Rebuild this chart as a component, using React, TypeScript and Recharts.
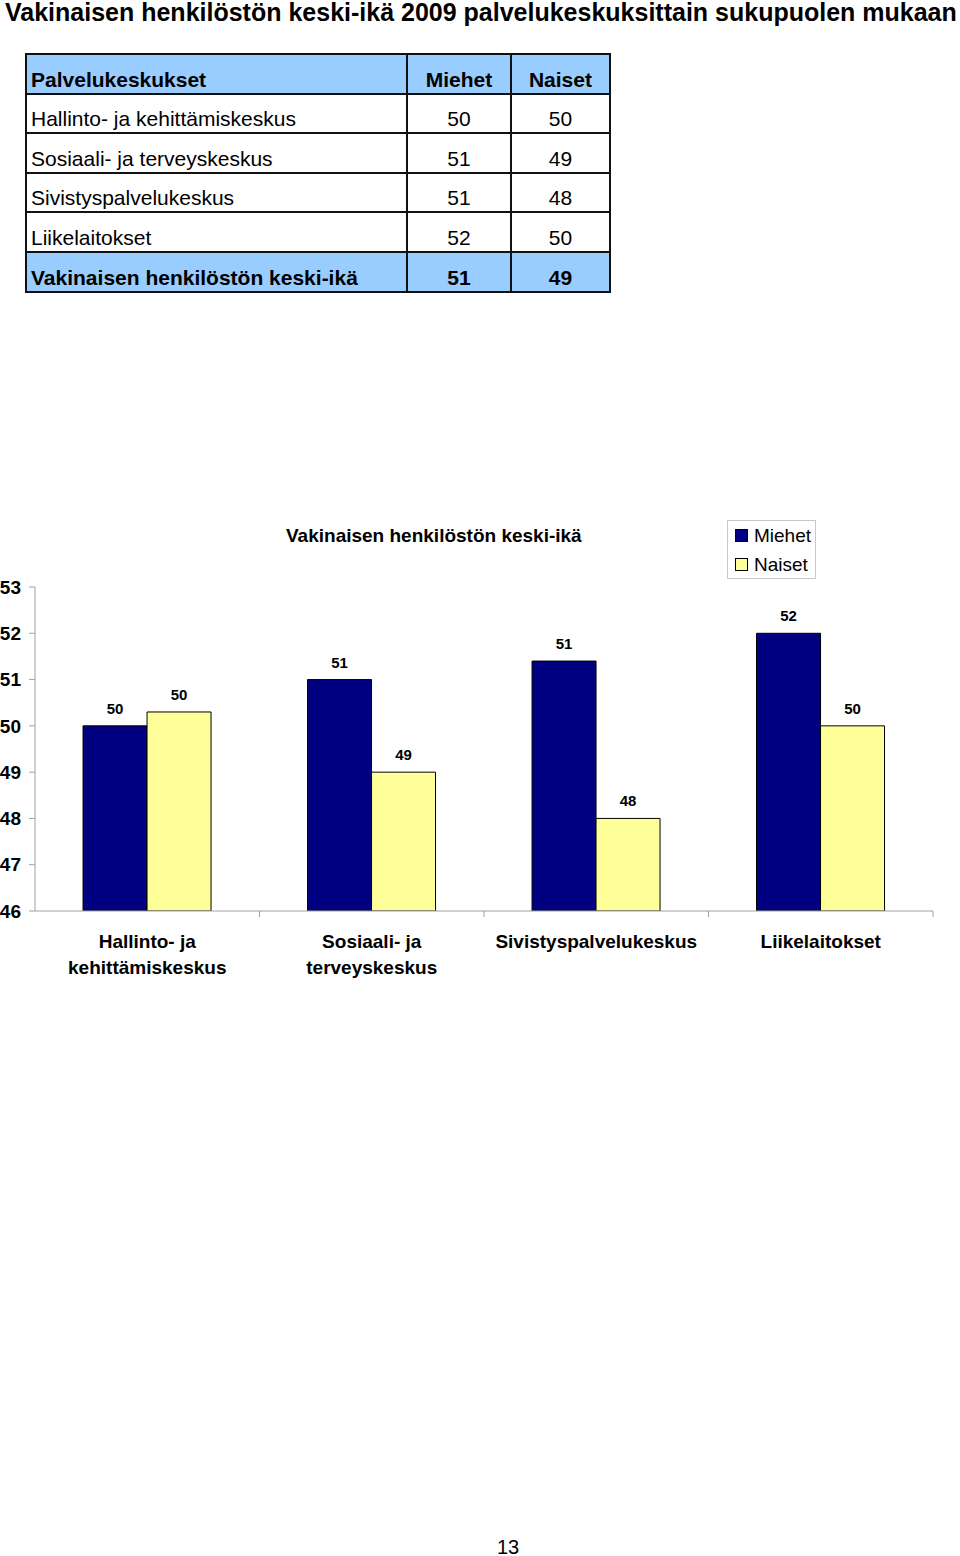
import { BarChart, Bar, XAxis, YAxis, Legend, LabelList } from "recharts";

const categories = [
  "Hallinto- ja kehittämiskeskus",
  "Sosiaali- ja terveyskeskus",
  "Sivistyspalvelukeskus",
  "Liikelaitokset",
];
// bar heights
const miehet = [50.0, 51.0, 51.4, 52.0];
const naiset = [50.3, 49.0, 48.0, 50.0];
// table values
const tableMiehet = [50, 51, 51, 52];
const tableNaiset = [50, 49, 48, 50];
const totalMiehet = 51;
const totalNaiset = 49;
const yTicks = [46, 47, 48, 49, 50, 51, 52, 53];

const FONT = "'Liberation Sans', Arial, sans-serif";

const data = categories.map((name, i) => ({
  name,
  Miehet: miehet[i],
  Naiset: naiset[i],
}));

type TickProps = {
  x?: number;
  y?: number;
  payload?: { value: string; offset?: number };
};

function CategoryTick({ x = 0, y = 0, payload }: TickProps) {
  if (!payload) return null;
  const half = payload.offset ?? 0;
  const lines = payload.value.replace("- ja ", "- ja\n").split("\n");
  return (
    <g>
      <line x1={x + half} x2={x + half} y1={y} y2={y + 6} stroke="#a0a0a0" />
      {lines.map((line, i) => (
        <text
          key={i}
          x={x}
          y={y + 37 + i * 26}
          textAnchor="middle"
          fontFamily={FONT}
          fontWeight="bold"
          fontSize={19}
          fill="#000"
        >
          {line}
        </text>
      ))}
    </g>
  );
}

type LegendProps = {
  payload?: Array<{ value: string; color?: string }>;
};

function LegendBox({ payload }: LegendProps) {
  return (
    <div
      style={{
        width: 87,
        height: 57,
        border: "1px solid #c8c8c8",
        background: "#fff",
        fontFamily: FONT,
        fontSize: 19,
        boxSizing: "content-box",
      }}
    >
      {(payload ?? []).map((entry) => (
        <div
          key={entry.value}
          style={{ display: "flex", alignItems: "center", height: 29, paddingLeft: 7 }}
        >
          <span
            style={{
              display: "inline-block",
              width: 11,
              height: 11,
              background: entry.color,
              border: "1px solid #000",
              marginRight: 6,
            }}
          />
          <span style={{ color: "#000" }}>{entry.value}</span>
        </div>
      ))}
    </div>
  );
}

const cellBase: React.CSSProperties = {
  border: "2px solid #111",
  height: 36.6,
  padding: "0 4px 1px 4px",
  verticalAlign: "bottom",
  fontSize: 21,
  lineHeight: "24px",
};

const labelStyle = { fontFamily: FONT, fontWeight: "bold", fontSize: 15, fill: "#000" };

export default function App() {
  return (
    <div
      style={{
        position: "absolute",
        left: 0,
        top: 0,
        width: 960,
        height: 1556,
        background: "#fff",
        fontFamily: FONT,
        color: "#000",
      }}
    >
      <div
        style={{
          position: "absolute",
          left: 5,
          top: -2,
          fontSize: 25,
          fontWeight: "bold",
          whiteSpace: "nowrap",
          lineHeight: "28px",
        }}
      >
        Vakinaisen henkilöstön keski-ikä 2009 palvelukeskuksittain sukupuolen mukaan
      </div>

      <table
        style={{
          position: "absolute",
          left: 25,
          top: 53,
          borderCollapse: "collapse",
          width: 586,
          fontFamily: FONT,
        }}
      >
        <tbody>
          <tr style={{ background: "#99ccff", fontWeight: "bold" }}>
            <td style={{ ...cellBase, width: 371 }}>Palvelukeskukset</td>
            <td style={{ ...cellBase, textAlign: "center" }}>Miehet</td>
            <td style={{ ...cellBase, textAlign: "center" }}>Naiset</td>
          </tr>
          {categories.map((name, i) => (
            <tr key={name}>
              <td style={cellBase}>{name}</td>
              <td style={{ ...cellBase, textAlign: "center" }}>{tableMiehet[i]}</td>
              <td style={{ ...cellBase, textAlign: "center" }}>{tableNaiset[i]}</td>
            </tr>
          ))}
          <tr style={{ background: "#99ccff", fontWeight: "bold" }}>
            <td style={cellBase}>Vakinaisen henkilöstön keski-ikä</td>
            <td style={{ ...cellBase, textAlign: "center" }}>{totalMiehet}</td>
            <td style={{ ...cellBase, textAlign: "center" }}>{totalNaiset}</td>
          </tr>
        </tbody>
      </table>

      <div
        style={{
          position: "absolute",
          left: 0,
          top: 500,
          width: 960,
          height: 500,
        }}
      >
        <div
          style={{
            position: "absolute",
            left: 286,
            top: 24,
            fontSize: 19,
            fontWeight: "bold",
            whiteSpace: "nowrap",
            lineHeight: "24px",
          }}
        >
          Vakinaisen henkilöstön keski-ikä
        </div>
        <BarChart
          width={960}
          height={500}
          data={data}
          margin={{ top: 87, right: 27, bottom: 59, left: 0 }}
          barCategoryGap="21.4%"
          barGap={0}
        >
          <XAxis
            dataKey="name"
            height={30}
            axisLine={{ stroke: "#a0a0a0" }}
            tickLine={false}
            tickSize={0}
            tickMargin={0}
            interval={0}
            tick={<CategoryTick />}
          />
          <YAxis
            width={35}
            domain={[46, 53]}
            ticks={yTicks}
            allowDataOverflow
            axisLine={{ stroke: "#a0a0a0" }}
            tickLine={{ stroke: "#a0a0a0" }}
            tickSize={6}
            tickMargin={8}
            tick={{ fontFamily: FONT, fontWeight: "bold", fontSize: 19, fill: "#000" }}
          />
          <Legend
            layout="vertical"
            align="center"
            verticalAlign="middle"
            wrapperStyle={{ left: 727, top: 20, width: 89 }}
            content={<LegendBox />}
          />
          <Bar dataKey="Miehet" fill="#000080" stroke="#000" strokeWidth={1} isAnimationActive={false}>
            <LabelList
              dataKey="Miehet"
              position="top"
              offset={12}
              formatter={(v: number) => Math.round(v)}
              style={labelStyle}
            />
          </Bar>
          <Bar dataKey="Naiset" fill="#ffff99" stroke="#000" strokeWidth={1} isAnimationActive={false}>
            <LabelList
              dataKey="Naiset"
              position="top"
              offset={12}
              formatter={(v: number) => Math.round(v)}
              style={labelStyle}
            />
          </Bar>
        </BarChart>
      </div>

      <div
        style={{
          position: "absolute",
          left: 0,
          width: 1016,
          top: 1535,
          textAlign: "center",
          fontSize: 20,
          lineHeight: "24px",
        }}
      >
        13
      </div>
    </div>
  );
}
